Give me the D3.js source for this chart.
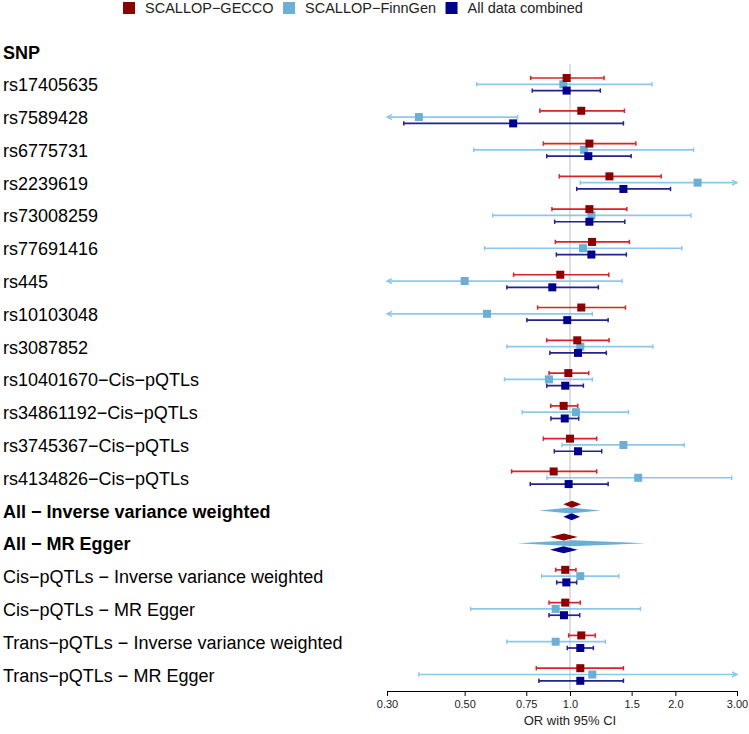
<!DOCTYPE html>
<html><head><meta charset="utf-8">
<script src="https://cdn.jsdelivr.net/npm/d3@7"></script>
<style>body{margin:0;background:#fff}svg{display:block}text{font-family:"Liberation Sans",Arial,sans-serif}</style>
</head><body><svg id="c" width="749" height="734"></svg>
<script>
const labels = ["rs17405635","rs7589428","rs6775731","rs2239619","rs73008259","rs77691416","rs445","rs10103048","rs3087852",
"rs10401670\u2212Cis\u2212pQTLs","rs34861192\u2212Cis\u2212pQTLs","rs3745367\u2212Cis\u2212pQTLs","rs4134826\u2212Cis\u2212pQTLs",
"All \u2212 Inverse variance weighted","All \u2212 MR Egger",
"Cis\u2212pQTLs \u2212 Inverse variance weighted","Cis\u2212pQTLs \u2212 MR Egger",
"Trans\u2212pQTLs \u2212 Inverse variance weighted","Trans\u2212pQTLs \u2212 MR Egger"];
const summaryRows = ["All \u2212 Inverse variance weighted","All \u2212 MR Egger"];
const seriesNames = ["SCALLOP\u2212GECCO","SCALLOP\u2212FinnGen","All data combined"];

const geccoOR = [0.978,1.077,1.136,1.296,1.136,1.156,0.938,1.077,1.049,0.989,0.959,1.000,0.898,1.013,0.959,0.969,0.969,1.077,1.070];
const geccoLo = [0.772,0.820,0.839,0.932,0.888,0.908,0.690,0.808,0.858,0.871,0.881,0.839,0.681,0.957,0.876,0.910,0.871,0.991,0.801];
const geccoHi = [1.251,1.430,1.542,1.822,1.453,1.478,1.291,1.440,1.293,1.131,1.052,1.192,1.192,1.075,1.052,1.040,1.070,1.181,1.421];

const finnOR = [0.957,0.370,1.097,2.315,1.151,1.089,0.500,0.579,1.070,0.871,1.040,1.421,1.566,1.000,1.020,1.070,0.910,0.910,1.158];
const finnLo = [0.541,0.200,0.531,1.070,0.601,0.570,0.180,0.210,0.660,0.650,0.730,0.949,0.859,0.817,0.707,0.830,0.520,0.660,0.370];
const finnHi = [1.714,0.708,2.254,4.800,2.216,2.088,1.409,1.158,1.725,1.158,1.469,2.120,2.896,1.224,1.647,1.378,1.589,1.262,3.600];

const combOR = [0.978,0.688,1.128,1.421,1.136,1.151,0.890,0.982,1.054,0.969,0.966,1.054,0.991,1.011,0.959,0.976,0.961,1.070,1.070];
const combLo = [0.780,0.335,0.858,1.045,0.904,0.914,0.660,0.753,0.876,0.858,0.882,0.902,0.770,0.957,0.876,0.916,0.871,0.982,0.815];
const combHi = [1.221,1.421,1.495,1.937,1.434,1.449,1.205,1.285,1.270,1.092,1.059,1.232,1.285,1.068,1.052,1.045,1.066,1.166,1.421];

const tickValues = [0.3,0.5,0.75,1,1.5,2,3];
const tickLabels = ["0.30","0.50","0.75","1.0","1.5","2.0","3.00"];
const axisTitle = "OR with 95% CI";
const headerLabel = "SNP";

const markerColors = ["#8B0000","#6BAED6","#00008B"];
const lineColors = ["#D9232A","#8CC8EC","#23238F"];

const svg = d3.select("#c");
const x = d3.scaleLog().domain([0.3,3]).range([387,737]);
const y = d3.scalePoint().domain([headerLabel].concat(labels)).range([51.5,674.5]);
const offs = [-6.3,0,6.3];

const series = [
  {or:geccoOR, lo:geccoLo, hi:geccoHi},
  {or:finnOR, lo:finnLo, hi:finnHi},
  {or:combOR, lo:combLo, hi:combHi}
];

// reference line
svg.append("line").attr("x1",x(1)).attr("x2",x(1)).attr("y1",64).attr("y2",690)
  .attr("stroke","#d4d4d4").attr("stroke-width",1.5);

// labels
svg.append("text").attr("x",3).attr("y",y(headerLabel)+7.5).attr("font-size",18).attr("font-weight","bold").text(headerLabel);
labels.forEach(l=>{
  svg.append("text").attr("x",3).attr("y",y(l)+7).attr("font-size",18)
    .attr("font-weight", summaryRows.includes(l)?"bold":"normal").text(l);
});

const [xmin,xmax] = x.domain();
const g = svg.append("g");
labels.forEach((l,i)=>{
  const isSum = summaryRows.includes(l);
  [1,0,2].forEach(s=>{
    const d = series[s];
    const yy = y(l)+offs[s];
    const lo = d.lo[i], hi = d.hi[i], or = d.or[i];
    if(isSum){
      const hh = s===1?3.0:3.5;
      g.append("path").attr("d",`M${x(lo)},${yy}L${x(or)},${yy-hh}L${x(hi)},${yy}L${x(or)},${yy+hh}Z`)
        .attr("fill",markerColors[s]);
      return;
    }
    const x1 = x(Math.max(lo,xmin)), x2 = x(Math.min(hi,xmax));
    g.append("line").attr("x1",x1).attr("x2",x2).attr("y1",yy).attr("y2",yy)
      .attr("stroke",lineColors[s]).attr("stroke-width",1.7);
    if(lo>=xmin){
      g.append("line").attr("x1",x1).attr("x2",x1).attr("y1",yy-2.2).attr("y2",yy+2.2).attr("stroke",lineColors[s]).attr("stroke-width",1.5);
    } else {
      g.append("path").attr("d",`M${x1+5},${yy-2.5}L${x1},${yy}L${x1+5},${yy+2.5}`).attr("fill","none").attr("stroke",lineColors[s]).attr("stroke-width",1.4);
    }
    if(hi<=xmax){
      g.append("line").attr("x1",x2).attr("x2",x2).attr("y1",yy-2.2).attr("y2",yy+2.2).attr("stroke",lineColors[s]).attr("stroke-width",1.5);
    } else {
      g.append("path").attr("d",`M${x2-5},${yy-2.5}L${x2},${yy}L${x2-5},${yy+2.5}`).attr("fill","none").attr("stroke",lineColors[s]).attr("stroke-width",1.4);
    }
  });
  if(!isSum){
    [1,0,2].forEach(s=>{
      const d = series[s];
      const yy = y(l)+offs[s];
      const sz = 8;
      g.append("rect").attr("x",x(d.or[i])-sz/2).attr("y",yy-sz/2).attr("width",sz).attr("height",sz)
        .attr("fill",markerColors[s]);
    });
  }
});

// axis
const axis = d3.axisBottom(x).tickValues(tickValues).tickFormat((d,i)=>tickLabels[i]).tickSize(5).tickSizeOuter(0).tickPadding(4);
const ag = svg.append("g").attr("transform","translate(0,691)").call(axis);
ag.select(".domain").attr("stroke","#000").attr("stroke-width",1);
ag.selectAll(".tick line").attr("stroke","#000").attr("stroke-width",1);
ag.selectAll(".tick text").attr("font-size",11).attr("fill","#222").attr("font-family","'Liberation Sans',Arial,sans-serif");
svg.append("text").attr("x",x(1)).attr("y",724.5).attr("text-anchor","middle").attr("font-size",13).attr("fill","#222").text(axisTitle);

// legend
let lx = 123;
seriesNames.forEach((n,i)=>{
  svg.append("rect").attr("x",lx).attr("y",2).attr("width",12).attr("height",12).attr("fill",markerColors[i]);
  const t = svg.append("text").attr("x",lx+22).attr("y",13).attr("font-size",14.5).attr("fill","#222").text(n);
  lx += 22 + t.node().getComputedTextLength() + 9.5;
});
</script></body></html>
